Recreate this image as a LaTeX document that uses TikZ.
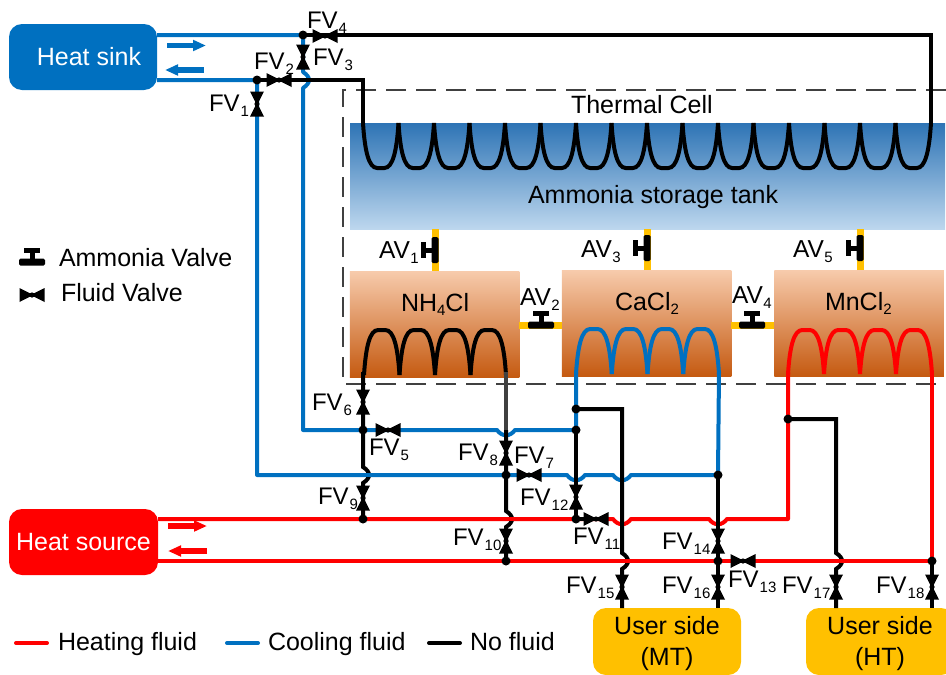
\documentclass[tikz,border=0pt]{standalone}
\usepackage{fontspec}
\setmainfont{Liberation Sans}
\usetikzlibrary{calc,arrows.meta}
\definecolor{cblue}{HTML}{0070C0}
\definecolor{cred}{HTML}{FF0000}
\definecolor{cgold}{HTML}{FFC000}
\definecolor{cdash}{HTML}{404040}
\newcommand{\FSm}{\fontsize{25}{30}\selectfont}
\newcommand{\FVl}[1]{\fontsize{24}{28}\selectfont FV\kern1pt\raisebox{-5pt}{\fontsize{15}{15}\selectfont #1}}
\newcommand{\AVl}[1]{\fontsize{24.5}{28}\selectfont AV\kern0.5pt\raisebox{-5pt}{\fontsize{15}{15}\selectfont #1}}
\newcommand{\Sb}[1]{\raisebox{-4pt}{\fontsize{15}{15}\selectfont #1}}
% vertical pipe running downward, hopping to the right of a crossing
\newcommand{\hopR}[1]{-- ($(#1)+(0,-8)$) .. controls ($(#1)+(8,-3)$) and ($(#1)+(8,3)$) .. ($(#1)+(0,8)$)}
% horizontal pipe running rightward, dipping below a crossing
\newcommand{\dipD}[1]{-- ($(#1)+(-9,0)$) .. controls ($(#1)+(-4,7)$) and ($(#1)+(4,7)$) .. ($(#1)+(9,0)$)}
\newcommand{\coil}[6]{%
  \foreach \i in {1,...,#3}{%
    \pgfmathsetmacro{\xa}{#1+(\i-1)*#2}
    \draw[#6] (\xa,#4) .. controls (\xa+0.05*#2,#4+0.62*#5-0.62*#4) and (\xa+0.16*#2,#5) .. (\xa+0.40*#2,#5)
      -- (\xa+0.60*#2,#5) .. controls (\xa+0.84*#2,#5) and (\xa+0.95*#2,#4+0.62*#5-0.62*#4) .. (\xa+#2,#4);
  }}
\tikzset{
  x=1pt,y=-1pt,
  every node/.style={inner sep=0pt,outer sep=0pt},
  bluep/.style={draw=cblue,line width=4pt,line join=round},
  redp/.style={draw=cred,line width=4pt,line join=round},
  blackp/.style={draw=black,line width=4pt,line join=miter},
  goldp/.style={draw=cgold,line width=7pt},
  txt/.style={anchor=base west,font=\FSm},
  boxsink/.style={fill=cblue,rounded corners=13pt,text=white,font=\FSm},
  boxsource/.style={fill=cred,rounded corners=13pt,text=white,font=\FSm},
  boxuser/.style={fill=cgold,rounded corners=13pt,text=black,align=center,font=\FSm,minimum width=148pt,minimum height=67pt},
  tankbox/.style={top color=tanktop,bottom color=tankbot,minimum width=595pt,minimum height=106pt},
  salt/.style={top color=salttop,bottom color=saltbot,minimum width=169.5pt,minimum height=106pt},
  dot/.style={fill=black,circle,minimum size=9pt},
  fv/.pic={
    \fill[black] (-12.5,-7) -- (-1.5,-1.4) -- (1.5,-1.4) -- (12.5,-7) -- (12.5,7) -- (1.5,1.4) -- (-1.5,1.4) -- (-12.5,7) -- cycle;
    \fill[black] (0,0) circle (2.6);
  },
  av/.pic={
    \fill[black,rounded corners=1.5pt] (-13,-3.5) rectangle (13,3.5);
    \fill[black] (-2.5,0) rectangle (2.5,-10);
    \fill[black] (-8,-9.5) rectangle (8,-14);
  },
  flowarrow/.style={line width=5.4pt,-{Triangle[length=13pt,width=10.5pt]}},
}
\definecolor{tanktop}{HTML}{2E74B5}
\definecolor{tankbot}{HTML}{BDD7EE}
\definecolor{salttop}{HTML}{F7CBAC}
\definecolor{saltbot}{HTML}{C55A11}
\begin{document}
\begin{tikzpicture}
\useasboundingbox (0,0) rectangle (946,675);
\clip (0,0) rectangle (946,675);
% ---------- named points
\coordinate (J1) at (257,80);
\coordinate (J3) at (303,35);
\coordinate (TL) at (363,80);
\coordinate (TR) at (931,35);
\coordinate (X1) at (303,80);
\coordinate (K6) at (363,430);
\coordinate (K9) at (363,519);
\coordinate (X2) at (363,475);
\coordinate (X3) at (506,430);
\coordinate (K8) at (506,475);
\coordinate (X4) at (506,519);
\coordinate (K10) at (506,561);
\coordinate (Ca1) at (576,409);
\coordinate (Ca2) at (576,430);
\coordinate (Ca3) at (622,409);
\coordinate (X5) at (576,475);
\coordinate (X6) at (622,475);
\coordinate (K12) at (576,519);
\coordinate (X7) at (622,519);
\coordinate (X8) at (718,519);
\coordinate (X9) at (622,561);
\coordinate (K14) at (718,475);
\coordinate (K16) at (718,561);
\coordinate (Mn1) at (788,419);
\coordinate (Mn2) at (836,419);
\coordinate (Mn3) at (788,519);
\coordinate (X10) at (836,561);
\coordinate (K18) at (932,561);
\coordinate (V11) at (596,519);
% valves
\coordinate (FV1) at (257,104);
\coordinate (FV2) at (279,80);
\coordinate (FV3) at (303,57);
\coordinate (FV4) at (325,36);
\coordinate (FV5) at (388,430);
\coordinate (FV6) at (363,402);
\coordinate (FV7) at (529,475);
\coordinate (FV8) at (506,453);
\coordinate (FV9) at (363,498);
\coordinate (FV10) at (506,541);
\coordinate (FV12) at (576,497);
\coordinate (FV13) at (743,561);
\coordinate (FV14) at (718,541);
\coordinate (FV15) at (622,587);
\coordinate (FV16) at (718,587);
\coordinate (FV17) at (836,587);
\coordinate (FV18) at (932,587);
% ---------- thermal cell frame
\draw[cdash,line width=2.6pt,dash pattern=on 20pt off 10pt] (946,90) -- (343,90) -- (343,384) -- (937,384);
% ---------- vessels
\node[tankbox] (tank) at (647.5,176) {};
\node[salt] (nh) at (434.5,324) {};
\node[salt] (ca) at (646.5,323) {};
\node[salt] (mn) at (859,323) {};
% ---------- ammonia pipes
\coordinate (A1) at (435,250);
\coordinate (A3) at (647,248);
\coordinate (A5) at (860,248);
\coordinate (A2) at (541,325);
\coordinate (A4) at (752,325);
\draw[goldp] (nh.north -| A1) -- (tank.south -| A1);
\draw[goldp] (ca.north -| A3) -- (tank.south -| A3);
\draw[goldp] (mn.north -| A5) -- (tank.south -| A5);
\draw[goldp] (nh.east |- A2) -- (ca.west |- A2);
\draw[goldp] (ca.east |- A4) -- (mn.west |- A4);
\pic[rotate=90] at (A1) {av};
\pic[rotate=90] at (A3) {av};
\pic[rotate=90] at (A5) {av};
\pic at (A2) {av};
\pic at (A4) {av};
% ---------- boxes
\node[boxsink,minimum width=148pt,minimum height=66pt] (sink) at (83,57) {\hspace{12pt}Heat sink};
\node[boxsource,minimum width=149pt,minimum height=66pt] (source) at (83.5,542) {Heat source};
\node[boxuser] (mt) at (667,641.5) {\rule{0pt}{23pt}User side\\[1pt](MT)};
\node[boxuser] (ht) at (880,641.5) {\rule{0pt}{23pt}User side\\[1pt](HT)};
% ---------- red pipes
\draw[redp] (source.east |- K9) -- (K12) -- (V11) \dipD{X7} \dipD{X8} -- (Mn3) -- (Mn1) -- (788,372);
\draw[redp] (source.east |- K10) -- (K18) -- (932,372);
\coil{788}{36}{4}{374}{330}{redp}
% ---------- blue pipes
\draw[bluep] (sink.east |- J3) -- (J3) -- (303,70) \hopR{X1} -- (303,430) -- (363,430) \dipD{X3} -- (Ca2) -- (Ca1) -- (576,372);
\draw[bluep] (sink.east |- J1) -- (J1) -- (257,475) -- (X2) -- (K8) \dipD{X5} \dipD{X6} -- (K14) -- (719,372);
\coil{576}{35.75}{4}{374}{329}{bluep}
% ---------- black pipes
\draw[blackp] (J1) -- (TL) -- (363,125);
\coil{363}{35.5}{16}{123}{168}{blackp}
\draw[blackp] (J3) -- (TR) -- (931,125);
\coil{364}{35.5}{4}{375}{330}{blackp}
\draw[blackp] (363,372) -- (K6) \hopR{X2} -- (K9);
\draw[draw=cdash,line width=4pt] (506,372) -- (506,430);
\draw[blackp] (506,430) -- (K8) \hopR{X4} -- (K10);
\draw[blackp] (Ca1) -- (Ca3) -- (622,553) \hopR{X9} -- (mt.north -| X9);
\draw[blackp] (Ca2) -- (K12) -- (V11);
\draw[blackp] (K14) -- (K16) -- (mt.north -| K16);
\draw[blackp] (Mn1) -- (Mn2) -- (836,553) \hopR{X10} -- (ht.north -| X10);
\draw[blackp] (K18) -- (ht.north -| K18);
% fluid passing over the hops
\draw[bluep] (352,475) -- (377,475);
\draw[redp] (496,519) -- (520,519);
\draw[redp] (612,561) -- (636,561);
\draw[redp] (826,561) -- (850,561);
% ---------- flow arrows
\draw[flowarrow,cblue] (167,45.5) -- (206,45.5);
\draw[flowarrow,cblue] (204,70) -- (165,70);
\draw[flowarrow,cred] (168,526) -- (207,526);
\draw[flowarrow,cred] (207,551) -- (168,551);
% ---------- fluid valves
\foreach \v in {FV1,FV3,FV6,FV8,FV9,FV10,FV12,FV14,FV15,FV16,FV17,FV18}{\pic[rotate=90] at (\v) {fv};}
\foreach \v in {FV2,FV4,FV5,FV7,FV13,V11}{\pic at (\v) {fv};}
% ---------- junctions
\foreach \j in {J1,J3,K6,K9,K8,K10,Ca1,Ca2,K12,K14,K16,Mn1,K18}{\node[dot] at (\j) {};}
% ---------- valve labels
\node[txt] (lFV1) at (209,111) {\FVl{1}};
\node[txt] (lFV2) at (254,69) {\FVl{2}};
\node[txt] (lFV3) at (313,65) {\FVl{3}};
\node[txt] (lFV4) at (307,28) {\FVl{4}};
\node[txt] (lFV5) at (369,455) {\FVl{5}};
\node[txt] (lFV6) at (312,410) {\FVl{6}};
\node[txt] (lFV7) at (514,463) {\FVl{7}};
\node[txt] (lFV8) at (458,460) {\FVl{8}};
\node[txt] (lFV9) at (318,504) {\FVl{9}};
\node[txt] (lFV10) at (453,545) {\FVl{10}};
\node[txt] (lFV11) at (573,544) {\FVl{11}};
\node[txt] (lFV12) at (520,505) {\FVl{12}};
\node[txt] (lFV13) at (728,587) {\FVl{13}};
\node[txt] (lFV14) at (662,549) {\FVl{14}};
\node[txt] (lFV15) at (566,593) {\FVl{15}};
\node[txt] (lFV16) at (662,593) {\FVl{16}};
\node[txt] (lFV17) at (782,593) {\FVl{17}};
\node[txt] (lFV18) at (876,593) {\FVl{18}};
\node[txt] (lAV1) at (379,258) {\AVl{1}};
\node[txt] (lAV2) at (520,305) {\AVl{2}};
\node[txt] (lAV3) at (581,257) {\AVl{3}};
\node[txt] (lAV4) at (732,303) {\AVl{4}};
\node[txt] (lAV5) at (793,257) {\AVl{5}};
% ---------- vessel labels
\node[txt] (lcell) at (571,113) {Thermal Cell};
\node[txt] (ltank) at (528,203) {Ammonia storage tank};
\node[txt] (lnh) at (401,311) {NH\Sb{4}Cl};
\node[txt] (lca) at (615,310) {CaCl\Sb{2}};
\node[txt] (lmn) at (825,310) {MnCl\Sb{2}};
% ---------- legends
\coordinate (LA) at (32,262);
\coordinate (LF) at (32,295);
\pic at (LA) {av};
\pic at (LF) {fv};
\node[txt] (lam) at (59,266) {Ammonia Valve};
\node[txt] (lfl) at (61,301) {Fluid Valve};
\coordinate (L1a) at (16,643); \coordinate (L1b) at (47,643);
\coordinate (L2a) at (227,643); \coordinate (L2b) at (258,643);
\coordinate (L3a) at (429,643); \coordinate (L3b) at (460,643);
\draw[redp,line cap=round] (L1a) -- (L1b);
\draw[bluep,line cap=round] (L2a) -- (L2b);
\draw[blackp,line cap=round] (L3a) -- (L3b);
\node[txt] (lheat) at (58,650) {Heating fluid};
\node[txt] (lcool) at (268,650) {Cooling fluid};
\node[txt] (lno) at (470,650) {No fluid};
\end{tikzpicture}
\end{document}
